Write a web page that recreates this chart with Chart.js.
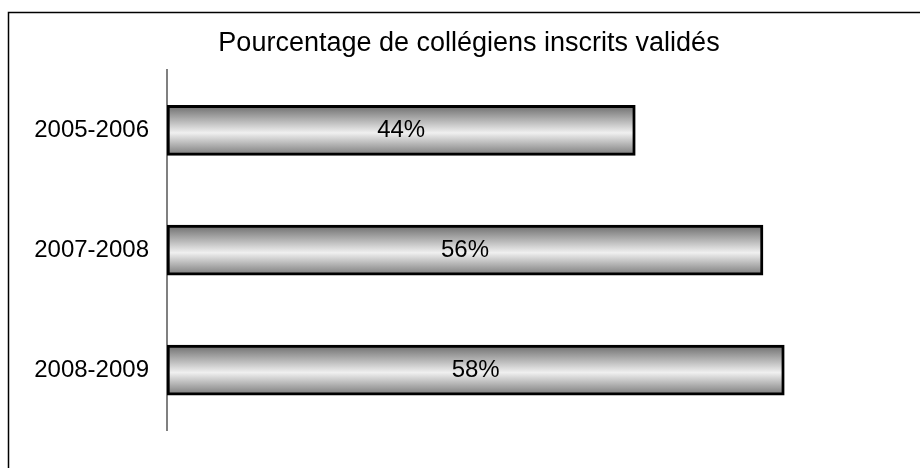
<!DOCTYPE html>
<html>
<head>
<meta charset="utf-8">
<script src="https://cdn.jsdelivr.net/npm/chart.js@4"></script>
<style>
  html, body { margin: 0; padding: 0; background: #fff; }
  #wrap { width: 920px; height: 468px; }
</style>
</head>
<body>
<div id="wrap"><canvas id="myChart" width="920" height="468"></canvas></div>
<script>
// data
var labels = ['2005-2006', '2007-2008', '2008-2009'];
var percentValues = [44, 56, 58];
var chartTitle = 'Pourcentage de collégiens inscrits validés';

var fontFamily = '"Liberation Sans", Arial, sans-serif';

// vertical metal-like gradient for each bar
function barGradient(context) {
    var chart = context.chart;
    var yScale = chart.scales.y;
    if (!chart.chartArea || !yScale) {
        return '#cccccc';
    }
    var center = yScale.getPixelForValue(context.dataIndex);
    var half = 25;
    var g = chart.ctx.createLinearGradient(0, center - half, 0, center + half);
    g.addColorStop(0, '#6c6c6c');
    g.addColorStop(0.55, '#f0f0f0');
    g.addColorStop(1, '#7a7a7a');
    return g;
}

// frame + value labels
var framePlugin = {
    id: 'frame',
    beforeDraw: function(chart) {
        var ctx = chart.ctx;
        ctx.save();
        ctx.fillStyle = '#fff';
        ctx.fillRect(0, 0, chart.width, chart.height);
        ctx.strokeStyle = '#000';
        ctx.lineWidth = 1.5;
        ctx.strokeRect(8.5, 12.5, chart.width + 20, chart.height + 20);
        ctx.restore();
    }
};

var valueLabels = {
    id: 'valueLabels',
    afterDatasetsDraw: function(chart) {
        var ctx = chart.ctx;
        var meta = chart.getDatasetMeta(0);
        ctx.save();
        ctx.font = '24px ' + fontFamily;
        ctx.fillStyle = '#000';
        ctx.textAlign = 'center';
        ctx.textBaseline = 'middle';
        meta.data.forEach(function(bar, i) {
            var cx = (bar.x + bar.base) / 2;
            ctx.fillText(percentValues[i] + '%', cx, bar.y);
        });
        ctx.restore();
    }
};

var ctx = document.getElementById('myChart');
new Chart(ctx, {
    type: 'bar',
    data: {
        labels: labels,
        datasets: [{
            data: percentValues,
            backgroundColor: barGradient,
            borderColor: '#000',
            borderWidth: 3,
            borderSkipped: false,
            barThickness: 50
        }]
    },
    options: {
        indexAxis: 'y',
        responsive: false,
        animation: false,
        layout: {
            padding: { top: 0, right: 8, bottom: 38, left: 26 }
        },
        plugins: {
            legend: { display: false },
            tooltip: { enabled: false },
            title: {
                display: true,
                text: chartTitle,
                color: '#000',
                font: { family: fontFamily, size: 27, weight: 'normal' },
                padding: { top: 27, bottom: 11 }
            }
        },
        scales: {
            x: {
                display: false,
                min: 0,
                max: 70
            },
            y: {
                afterFit: function(scale) { scale.width = 141; },
                grid: { display: true, drawOnChartArea: false, drawTicks: false },
                border: { display: true, color: '#808080', width: 2 },
                ticks: {
                    color: '#000',
                    padding: 18,
                    font: { family: fontFamily, size: 24 }
                }
            }
        }
    },
    plugins: [framePlugin, valueLabels]
});
</script>
</body>
</html>
